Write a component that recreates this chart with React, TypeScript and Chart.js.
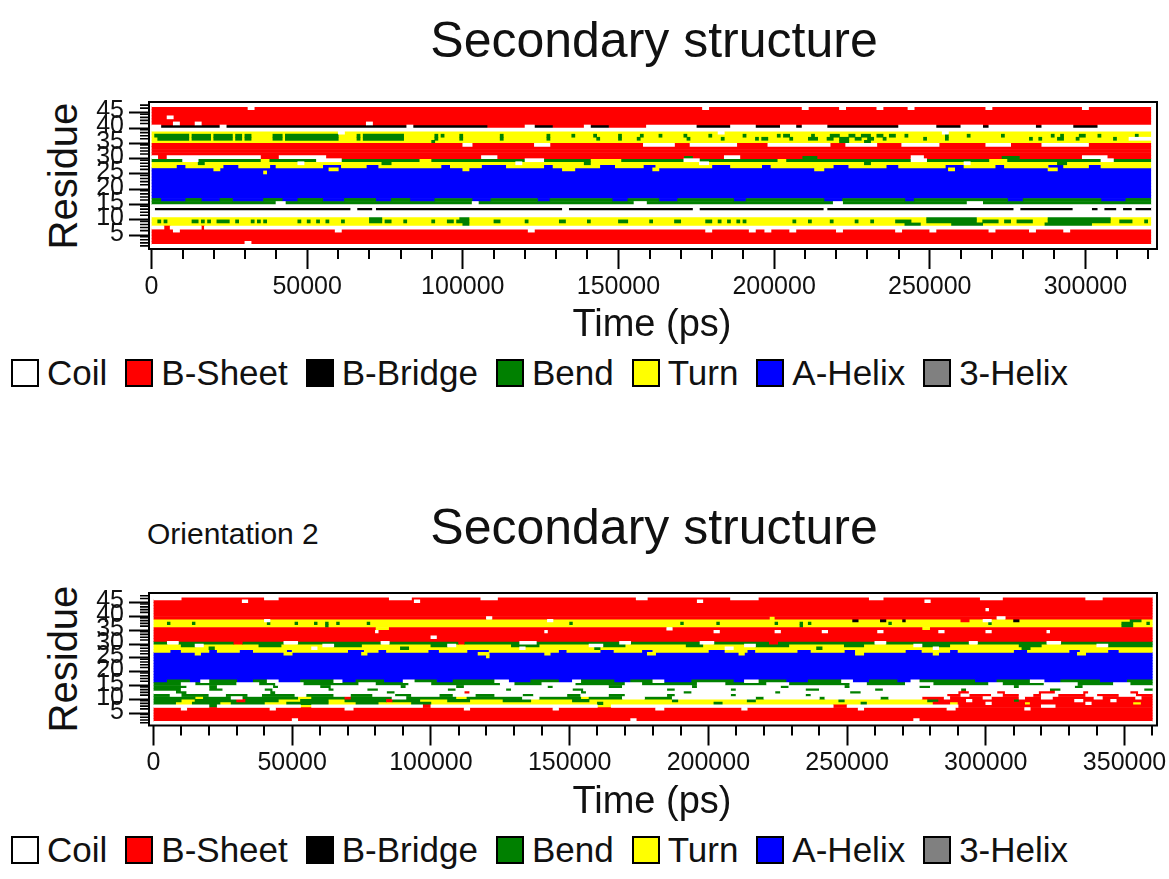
import React, { useEffect, useRef } from 'react';
import { Chart, registerables } from 'chart.js';

Chart.register(...registerables);

const FONT = "'Liberation Sans', Arial, Helvetica, sans-serif";

const STATE_CODES = ['C', 'E', 'B', 'S', 'T', 'H', 'G'];
const STATE_LABELS = ['Coil', 'B-Sheet', 'B-Bridge', 'Bend', 'Turn', 'A-Helix', '3-Helix'];
const STATE_COLORS = ['#ffffff', '#ff0000', '#000000', '#008000', '#ffff00', '#0000ff', '#808080'];

// run-length rows: state letter + duration in units of TIME_UNIT ps
const TIME_UNIT = 1000;
const TOTAL_1 = 321;
const TOTAL_2 = 360;

const RESIDUE_LABELS = [5, 10, 15, 20, 25, 30, 35, 40, 45];
const X_LABELS_1 = [0, 50000, 100000, 150000, 200000, 250000, 300000];
const X_LABELS_2 = [0, 50000, 100000, 150000, 200000, 250000, 300000, 350000];
const X_MINOR_STEP = 10000;

// rows listed from residue 47 (top) down to residue 1
const PLOT1_ROWS = [
  'C321',
  'E31 C2 E144 C2 E30 C2 E10 C2 E10 C2 E8 C2 E23 C2 E29 C2 E20',
  'E321',
  'E321',
  'E5 C2 E314',
  'E321',
  'E7 C2 E5 C2 E53 C2 E250',
  'C3 B19 C2 B58 C2 B24 E12 C3 B6 E10 C2 B6 E12 C16 B11 C8 B8 C5 B2 C8 B23 C12 B8 C7 B2 C15 B2 C10 B8 C17',
  'C321',
  'T60 C2 T120 C2 T70 C2 T65',
  'T1 S11 T1 S6 T1 S6 T1 S2 T1 S2 T7 S3 T1 S17 T6 S1 T1 S13 T10 S1 T1 S1 T5 S1 T12 S1 T14 S1 T7 S1 T6 S1 T7 S1 T6 S1 T5 S1 T7 S1 T7 S1 T10 S1 T10 S1 T1 S2 T7 S1 T5 S3 T3 S2 T2 S3 T2 S2 T2 S2 T3 S1 T12 S1 T6 S1 T10 S1 T15 S1 T2 S1 T5 S2 T4 S1 T11 S1 T4',
  'T2 S10 T1 S6 T1 S6 T1 S2 T1 S2 T7 S3 T1 S17 T6 S1 T1 S13 T10 S1 T7 S1 T12 S1 T14 S1 T15 S1 T6 S1 T5 S1 T15 S1 T10 S1 T10 S1 T1 S2 T7 S1 T5 S3 T3 S2 T2 S3 T2 S2 T2 S2 T3 S1 T12 S1 T6 S1 T26 S1 T2 S1 T5 S2 T4 S1 T11 S1 T4',
  'T90 S1 T130 S3 T5 S2 T90',
  'E100 C3 E20 C5 E30 C10 E5 C15 E10 C20 E5 C10 E8 C12 E15 C8 E10 C15 E20',
  'E321',
  'E321',
  'E321',
  'C2 E3 C30 E6 C15 E50 C5 E60 S3 E10 C5 E20 S5 E30 C4 E25 S6 E20 C8 E14',
  'S10 C5 S20 T3 S15 C8 S25 T4 S30 C6 S15 T10 S20 C5 S25 T3 S40 C5 S20 T6 S30 C4 S12',
  'T15 S2 T30 C2 T25 S3 T40 C2 T20 S2 T35 C3 T50 S2 T30 C2 T28 S3 T27',
  'T8 H3 T12 H5 T10 H2 T15 H6 T8 H4 T20 H3 T10 H8 T12 H3 T15 H5 T9 H4 T18 H6 T10 H3 T20 H5 T12 H4 T15 H6 T10 H3 T14 H5 T8 H4 T16',
  'H20 T2 H35 T3 H40 T2 H30 T4 H25 T2 H50 T3 H40 T2 H30 T3 H30',
  'H36 T1 H284',
  'H321',
  'H321',
  'H321',
  'H321',
  'H321',
  'H321',
  'H321',
  'H321',
  'S3 H8 S5 H6 S4 H10 S6 H5 S8 H7 S10 H5 S6 H8 S12 H6 S15 H4 S20 H5 S10 H6 S18 H4 S25 H6 S20 H3 S30 H5 S25 H8 S8',
  'S40 C3 S60 C2 S50 C4 S60 C3 S40 C5 S54',
  'C321',
  'C1 B63 C2 B5 C1 B60 C2 B40 C2 B40 C1 B60 C2 B17 C6 B2 C2 B4 C2 B3 C1 B5',
  'C321',
  'C321',
  'T70 S4 T25 S3 T147 S16 T23 S20 T13',
  'T2 S1 T1 S1 T8 S2 T1 S1 T1 S1 T2 S4 T2 S1 T4 S1 T1 S1 T1 S1 T10 S1 T2 S1 T2 S1 T2 S1 T4 S1 T8 S4 T1 S2 T4 S1 T8 S1 T4 S2 T1 S4 T8 S2 T8 S1 T10 S2 T7 S1 T9 S3 T7 S1 T7 S2 T8 S2 T2 S1 T2 S1 T2 S1 T1 S1 T15 S1 T4 S1 T6 S1 T7 S1 T4 S1 T7 S5 T5 S16 T2 S5 T2 S2 T2 S5 T5 S20 T3 S4 T4 S1 T1',
  'T100 S2 T140 S5 T10 S10 T20 S15 T19',
  'C4 E2 C10 E1 C304',
  'E7 C2 E50 C2 E60 C2 E55 C2 E12 C2 E3 C2 E6 C2 E13 C2 E17 C2 E9 C2 E17 C2 E11 C2 E9 C2 E26',
  'E321',
  'E321',
  'E321',
  'E30 C2 E289',
  'C321',
];

const PLOT2_ROWS = [
  'C360',
  'C10 E30 C5 E40 C8 E25 C6 E50 C4 E30 C10 E40 C5 E35 C8 E30 C6 E18',
  'E32 C2 E60 C2 E100 C2 E80 C2 E80',
  'E360',
  'E360',
  'E300 C1 E59',
  'E360',
  'E360',
  'E120 C2 E100 T2 E80 C3 E53',
  'T40 C2 T100 C2 T108 B2 T8 B2 T6 B1 T20 E3 T5 C3 T8 B2 T40 S4 T4',
  'T5 S1 T8 S1 T26 S1 T9 S1 T6 S1 T3 S1 T3 S1 T10 S1 T72 S1 T39 S1 T12 S1 T20 S1 T8 S1 T2 S1 T28 S1 T35 S1 T47 S4 T5 S1 T1',
  'T62 S1 T170 S1 T115 S4 T7',
  'E80 T5 E100 C2 E90 T3 E80',
  'E80 C1 E60 C1 E60 C2 E20 C2 E15 C2 E18 C2 E20 C2 E15 C2 E20 C1 E37',
  'E360',
  'E100 C2 E258',
  'E360',
  'S5 C4 S20 E3 S15 C5 S30 C3 S25 E2 S20 C6 S30 C4 S25 C5 S20 E3 S35 C4 S30 C3 S25 C5 S33',
  'T10 S5 C3 T20 S8 T15 C4 S10 T25 S6 C3 T20 S10 T18 C5 S8 T22 S6 T15 C4 S12 T20 S7 T18 C3 S10 T25 S8 T20 C4 S16',
  'T20 S2 T35 C2 T30 S3 T40 C2 T25 S2 T45 C3 T30 S2 T40 C2 T30 S3 T44',
  'T6 H4 T10 H3 T8 H5 T12 H2 T20 H6 T5 H3 T15 H4 T10 H8 T25 H3 T12 H5 T10 H4 T20 H6 T8 H3 T15 H5 T12 H4 T18 H6 T10 H3 T20 H5 T15 H4 T10 H4 T12',
  'H15 T2 H30 T3 H25 T2 H40 T4 H20 T2 H35 T3 H30 T2 H40 T3 H25 T2 H50 T3 H24',
  'H120 T1 H239',
  'H360',
  'H360',
  'H360',
  'H360',
  'H360',
  'H360',
  'H360',
  'H360',
  'H5 S8 H4 C3 S10 H6 S5 C4 H8 S12 C3 H5 S10 H7 C4 S8 H6 S15 C5 H8 S10 H5 C3 S12 H6 S8 C4 H10 S15 H4 C5 S10 H8 S12 C4 H6 S10 H5 C3 S20 H8 S12 C5 H6 S14 H10 S9',
  'S10 C5 S15 C8 S6 C10 S20 C6 S12 C8 S25 C5 S10 C12 S18 C6 S20 C10 S15 C8 S22 C6 S14 C10 S20 C5 S15 C12 S13 C6 S8',
  'S12 C8 S3 C20 S2 C15 S4 C25 S2 C18 S3 C30 S2 C20 S5 C25 S2 C30 S3 C20 S2 C25 S4 C30 S2 C20 S3 C25 S2 C16',
  'S10 C10 S5 C15 S3 C20 S2 C12 S4 C25 S3 C18 S2 C22 S4 C30 S3 C20 S2 C25 S5 C20 S3 C28 S2 C30 S4 C30 S3',
  'C8 S4 C30 S2 C40 S3 C25 E2 C40 S2 C35 S3 C30 S2 C25 S4 C35 E4 C10 E3 C12 E6 C10 E2 C15 E3 C5',
  'S6 C4 S10 C6 S8 C5 S12 C4 S10 C6 S8 C8 S6 C10 S5 C8 S7 C10 S4 C12 S5 C10 S6 C15 S3 C20 S2 C25 S2 C49 E5 C3 E8 C4 E6 C5 E3 C6 E10 C4 E8 C6 E6',
  'S15 T3 S10 C4 S20 T5 S12 E2 S15 C5 S18 T4 S20 C6 S15 T3 S12 C8 S10 C30 S3 C20 S2 C20 S3 C12 E8 C2 E12 C3 E10 C2 E6 C4 E15 C3 E12 C2 E4',
  'S10 T5 S15 E3 S12 T8 S10 T6 S15 E2 S10 T10 S8 T12 S10 T15 S6 T30 S2 T25 S3 T30 S2 T30 S4 E10 C2 E15 S2 E20 C3 E10 C2 E13',
  'S8 T6 S10 T4 S12 T8 S15 T10 S8 T12 S7 T60 S2 T40 S3 T50 S2 T24 E6 T3 E10 C2 E12 T2 E20 C2 E15 T3 E4',
  'C20 S3 C30 T4 C40 E3 C60 T5 C80 E5 C40 E30 C5 E35',
  'E10 C2 E30 C2 E25 C3 E40 C2 E30 C2 E35 C3 E28 C2 E40 C2 E30 C3 E25 C2 E44',
  'E360',
  'E360',
  'E360',
  'E50 C2 E120 C2 E100 C2 E84',
  'C360',
];

type Seg = { x: [number, number]; y: number };

function buildSegments(rows: string[], total: number): Record<string, Seg[]> {
  const segs: Record<string, Seg[]> = {};
  STATE_CODES.forEach((c) => (segs[c] = []));
  rows.forEach((row, i) => {
    const residue = rows.length - i;
    let t = 0;
    row.trim().split(/\s+/).forEach((tok) => {
      const c = tok[0];
      const n = parseInt(tok.slice(1), 10);
      if (t >= total || !segs[c]) return;
      const end = Math.min(total, t + n);
      segs[c].push({ x: [t * TIME_UNIT, end * TIME_UNIT], y: residue });
      t = end;
    });
    if (t < total) segs['C'].push({ x: [t * TIME_UNIT, total * TIME_UNIT], y: residue });
  });
  return segs;
}

const frameAndMinorTicks = {
  id: 'frameAndMinorTicks',
  afterDraw(chart: any) {
    const { ctx, chartArea: a, scales } = chart;
    const xs = scales.x;
    const ys = scales.y;
    const xMajor: number[] = chart.options.plugins.frameAndMinorTicks.xMajor;
    ctx.save();
    ctx.strokeStyle = '#000';
    ctx.lineWidth = 2;
    ctx.beginPath();
    xs.ticks.forEach((t: any) => {
      if (xMajor.includes(t.value)) return;
      const px = Math.round(xs.getPixelForValue(t.value));
      ctx.moveTo(px, a.bottom);
      ctx.lineTo(px, a.bottom + 10);
    });
    ctx.stroke();
    ctx.lineWidth = 1.6;
    ctx.beginPath();
    ys.ticks.forEach((t: any) => {
      if (RESIDUE_LABELS.includes(t.value)) return;
      const py = ys.getPixelForValue(t.value);
      ctx.moveTo(a.left - 9, py);
      ctx.lineTo(a.left, py);
    });
    ctx.stroke();
    ctx.lineWidth = 2;
    ctx.strokeRect(a.left, a.top, a.right - a.left, a.bottom - a.top);
    ctx.restore();
  },
};

type PlotProps = {
  rows: string[];
  total: number;
  xMin: number;
  xMax: number;
  xLabels: number[];
  top: number;
  height: number;
  areaTop: number;
  areaBottom: number;
};

function DsspPlot({ rows, total, xMin, xMax, xLabels, top, height, areaTop, areaBottom }: PlotProps) {
  const ref = useRef<HTMLCanvasElement | null>(null);
  useEffect(() => {
    if (!ref.current) return;
    const segs = buildSegments(rows, total);
    const residues = rows.map((_, i) => rows.length - i).reverse();
    const datasets = STATE_CODES.map((c, i) => ({
      label: STATE_LABELS[i],
      data: segs[c],
      backgroundColor: STATE_COLORS[i],
      borderWidth: 0,
      grouped: false,
      barPercentage: 1,
      categoryPercentage: 1,
    }));
    const chart = new Chart(ref.current, {
      type: 'bar',
      data: { datasets } as any,
      plugins: [frameAndMinorTicks as any],
      options: {
        indexAxis: 'y',
        animation: false,
        responsive: false,
        maintainAspectRatio: false,
        events: [],
        layout: { padding: { left: 0, right: 12, top: areaTop - top, bottom: 0 } },
        plugins: {
          legend: { display: false },
          tooltip: { enabled: false },
          title: { display: false },
          frameAndMinorTicks: { xMajor: xLabels },
        } as any,
        scales: {
          x: {
            type: 'linear',
            position: 'bottom',
            min: xMin,
            max: xMax,
            border: { display: false },
            grid: {
              display: true,
              drawOnChartArea: false,
              drawTicks: true,
              tickLength: 20,
              tickWidth: 2,
              tickColor: (ctx: any) => (ctx.tick && xLabels.includes(ctx.tick.value) ? '#000' : 'rgba(0,0,0,0)'),
            },
            ticks: {
              autoSkip: false,
              maxRotation: 0,
              padding: 3,
              color: '#111',
              font: { family: FONT, size: 25 },
              callback: (v: any) => (xLabels.includes(Number(v)) ? String(v) : ''),
            },
            afterBuildTicks: (s: any) => {
              const list: any[] = [];
              for (let v = 0; v <= xMax; v += X_MINOR_STEP) list.push({ value: v });
              s.ticks = list;
            },
            afterFit: (s: any) => {
              s.height = top + height - areaBottom;
            },
          },
          y: {
            type: 'linear',
            position: 'left',
            min: 0.5,
            max: rows.length + 0.5,
            border: { display: false },
            grid: {
              display: true,
              drawOnChartArea: false,
              drawTicks: true,
              tickLength: 20,
              tickWidth: 2,
              tickColor: (ctx: any) => (ctx.tick && RESIDUE_LABELS.includes(ctx.tick.value) ? '#000' : 'rgba(0,0,0,0)'),
            },
            ticks: {
              autoSkip: false,
              padding: 5,
              color: '#111',
              font: { family: FONT, size: 25 },
              callback: (v: any) => (RESIDUE_LABELS.includes(Number(v)) ? String(v) : ''),
            },
            afterBuildTicks: (s: any) => {
              s.ticks = residues.map((v) => ({ value: v }));
            },
            afterFit: (s: any) => {
              s.width = 149;
            },
          },
        },
      } as any,
    });
    return () => chart.destroy();
  }, [rows, total, xMin, xMax, xLabels, top, height, areaTop, areaBottom]);
  return (
    <canvas
      ref={ref}
      width={1169}
      height={height}
      style={{ position: 'absolute', left: 0, top, width: 1169, height }}
    />
  );
}

function Legend({ centerY }: { centerY: number }) {
  return (
    <div
      style={{
        position: 'absolute',
        left: 11,
        top: centerY - 20,
        height: 40,
        display: 'flex',
        alignItems: 'center',
        fontFamily: FONT,
        fontSize: 35,
        color: '#111',
        whiteSpace: 'nowrap',
      }}
    >
      {STATE_LABELS.map((l, i) => (
        <div key={l} style={{ display: 'flex', alignItems: 'center', marginRight: 18 }}>
          <span
            style={{
              display: 'inline-block',
              width: 28,
              height: 28,
              boxSizing: 'border-box',
              border: '2px solid #000',
              background: STATE_COLORS[i],
              marginRight: 8,
            }}
          />
          <span style={{ lineHeight: '40px' }}>{l}</span>
        </div>
      ))}
    </div>
  );
}

function Text({ children, left, top, width, size, align = 'center' }: any) {
  return (
    <div
      style={{
        position: 'absolute',
        left,
        top,
        width,
        fontFamily: FONT,
        fontSize: size,
        lineHeight: `${size}px`,
        textAlign: align,
        color: '#111',
        whiteSpace: 'nowrap',
      }}
    >
      {children}
    </div>
  );
}

function YTitle({ cy }: { cy: number }) {
  return (
    <div
      style={{
        position: 'absolute',
        left: 63 - 100,
        top: cy - 20,
        width: 200,
        height: 40,
        fontFamily: FONT,
        fontSize: 40,
        lineHeight: '40px',
        textAlign: 'center',
        color: '#111',
        transform: 'rotate(-90deg)',
        transformOrigin: 'center center',
        whiteSpace: 'nowrap',
      }}
    >
      Residue
    </div>
  );
}

export default function App() {
  return (
    <div style={{ position: 'absolute', left: 0, top: 0, width: 1169, height: 879, background: '#fff', overflow: 'hidden' }}>
      <Text left={254} top={15} width={800} size={50}>Secondary structure</Text>
      <YTitle cy={176} />
      <DsspPlot
        rows={PLOT1_ROWS}
        total={TOTAL_1}
        xMin={-800}
        xMax={323000}
        xLabels={X_LABELS_1}
        top={0}
        height={320}
        areaTop={102}
        areaBottom={249}
      />
      <Text left={452} top={304} width={400} size={38}>Time (ps)</Text>
      <Legend centerY={373} />

      <Text left={147} top={519} width={300} size={30} align="left">Orientation 2</Text>
      <Text left={254} top={502} width={800} size={50}>Secondary structure</Text>
      <YTitle cy={659} />
      <DsspPlot
        rows={PLOT2_ROWS}
        total={TOTAL_2}
        xMin={-1600}
        xMax={361700}
        xLabels={X_LABELS_2}
        top={480}
        height={320}
        areaTop={593}
        areaBottom={725.5}
      />
      <Text left={452} top={781} width={400} size={38}>Time (ps)</Text>
      <Legend centerY={850} />
    </div>
  );
}
